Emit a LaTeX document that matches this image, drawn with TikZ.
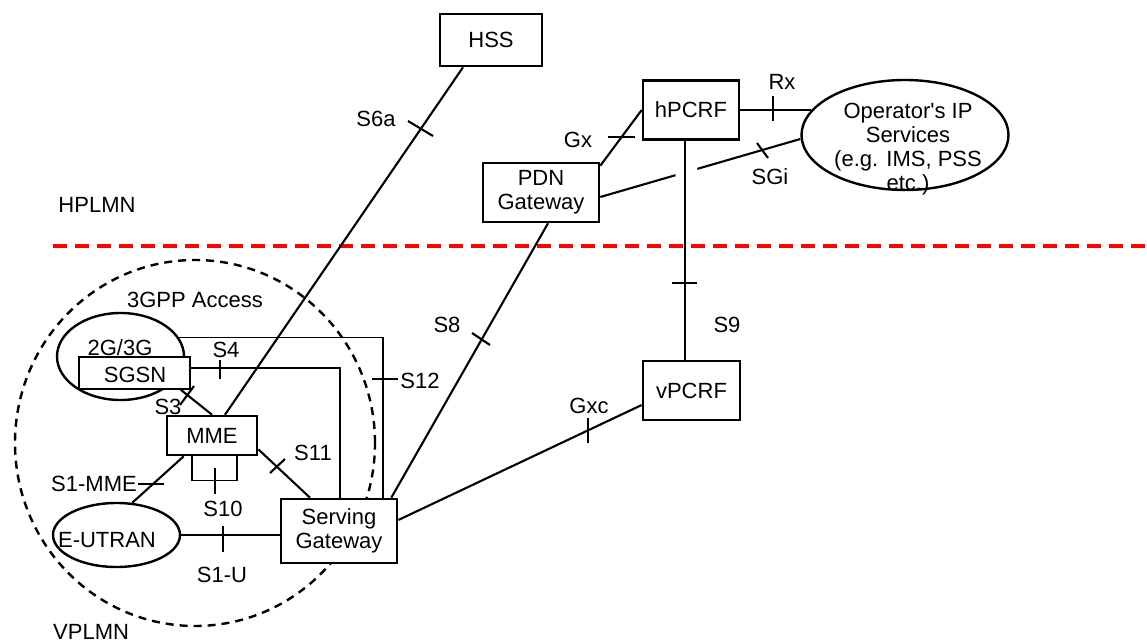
\documentclass[tikz,border=0pt]{standalone}
\usepackage{fontspec}
\setmainfont{Liberation Sans}
\usetikzlibrary{shapes.geometric,calc}
\begin{document}
\begin{tikzpicture}[x=1pt,y=-1pt,
  every node/.style={font=\fontsize{22}{24}\selectfont, inner sep=0pt},
  box/.style={draw, line width=2.6pt, fill=white, align=center},
  oval/.style={draw, ellipse, line width=2.4pt, align=center},
  conn/.style={line width=2.1pt},
  thinconn/.style={line width=1.4pt},
  tk/.style={line width=2.1pt}]
\useasboundingbox (0,0) rectangle (1147,644);

% 3GPP access area and PLMN border
\node[draw, ellipse, line width=2.4pt, dash pattern=on 8pt off 6pt, minimum width=360pt, minimum height=366pt] (access) at (195,443) {};
\draw[red, line width=3.6pt, dash pattern=on 14pt off 8pt] (53,246) -- (1147,246);

% ovals
\node[oval, minimum width=127pt, minimum height=87pt] (sgsnell) at (120.5,356.5) {};
\node[oval, minimum width=127pt, minimum height=64pt] (eutran) at (116.5,535) {};
\node[oval, minimum width=207pt, minimum height=110pt] (ops) at (905,135) {};
\node[align=center] (opstxt) at (908,149) {Operator\textquotesingle s IP\\Services\\(e.g. IMS, PSS\\etc.)};

% boxes
\node[box, minimum width=102pt, minimum height=52pt] (hss) at (491,40) {HSS};
\node[box, minimum width=96pt, minimum height=59pt] (hpcrf) at (691,110) {hPCRF};
\node[box, minimum width=116pt, minimum height=59pt] (pdn) at (541,192.5) {PDN\\Gateway};
\node[box, minimum width=97pt, minimum height=59pt] (vpcrf) at (691.5,390.5) {vPCRF};
\node[box, minimum width=116pt, minimum height=64pt] (sgw) at (339,531) {Serving\\Gateway};
\node[box, minimum width=90pt, minimum height=39pt] (mme) at (212,435.5) {MME};
\node[draw, fill=white, line width=1.4pt, minimum width=111pt, minimum height=32pt] (sgsn) at (134.5,373) {};
\node (sgsntxt) at (135,374.5) {SGSN};
\node (g23) at (120,348) {2G/3G};
\node (eutxt) at (107,540) {E-UTRAN};

% connectors
\draw[conn] ([xshift=-28pt]hss.south) -- ([xshift=13pt]mme.north);
\draw[conn] ([xshift=-10pt]sgsn.south east) -- (mme.north);
\draw[conn] ([yshift=5pt]sgsn.east) -| ([xshift=1pt]sgw.north);
\draw[thinconn] (sgsnell.18) -| ([xshift=44pt]sgw.north);
\draw[conn] ([yshift=7pt]mme.south east) -- ([xshift=-29pt]sgw.north);
\draw[conn] ([xshift=18pt]mme.south west) -- (eutran.64);
\draw[conn] (eutran.east) -- (eutran.east -| sgw.west);
\draw[thinconn] ([xshift=-20pt]mme.south) -- ++(0,24) -| ([xshift=25pt]mme.south);
\draw[conn] ([xshift=7pt]pdn.south) -- ([xshift=-7pt]sgw.north east);
\draw[conn] ([yshift=11pt]sgw.east) -- ([yshift=-14.5pt]vpcrf.west);
\draw[conn] ([xshift=-6pt]hpcrf.south) -- ([xshift=-6pt]hpcrf.south |- vpcrf.north);
\draw[conn] ([yshift=-4pt]pdn.north east) -- (hpcrf.west);
\draw[conn] (hpcrf.east) -- (hpcrf.east -| ops.165);
\path ([yshift=-4.5pt]pdn.east) -- ([yshift=-4pt]ops.west)
  coordinate[pos=0.376] (sgia) coordinate[pos=0.485] (sgib);
\draw[conn] ([yshift=-4.5pt]pdn.east) -- (sgia);
\draw[conn] (sgib) -- ([yshift=-4pt]ops.west);

% interface ticks
\draw[tk] (408,121) -- (433,136);
\draw[tk] (194,386) -- (180,405);
\draw[tk] (220,360) -- (220,379);
\draw[thinconn] (372,379) -- (398,379);
\draw[tk] (270,473) -- (285,459);
\draw[tk] (138,484) -- (164,484);
\draw[tk] (215,468) -- (215,494);
\draw[tk] (223,526) -- (223,552);
\draw[tk] (472,333) -- (490,345);
\draw[tk] (588,418) -- (588,443);
\draw[tk] (672,283) -- (697,283);
\draw[tk] (608,137) -- (635,137);
\draw[tk] (773,96) -- (773,121);
\draw[tk] (757,143) -- (768,158);

% labels
\node (ls6a) at (376,119) {S6a};
\node (ls3) at (168,407) {S3};
\node (ls4) at (226,350) {S4};
\node (ls12) at (420,381) {S12};
\node (ls11) at (313,453) {S11};
\node (ls1mme) at (94,484) {S1-MME};
\node (ls10) at (223,509) {S10};
\node (ls1u) at (222,575) {S1-U};
\node (ls8) at (447,325) {S8};
\node (lgxc) at (589,406) {Gxc};
\node (ls9) at (727,325) {S9};
\node (lgx) at (578,140) {Gx};
\node (lrx) at (782,82) {Rx};
\node (lsgi) at (770,177) {SGi};
\node (lh) at (97,205) {HPLMN};
\node[anchor=base west] (lv) at (53,639) {VPLMN};
\node (lacc) at (195,300) {3GPP Access};
\end{tikzpicture}
\end{document}
